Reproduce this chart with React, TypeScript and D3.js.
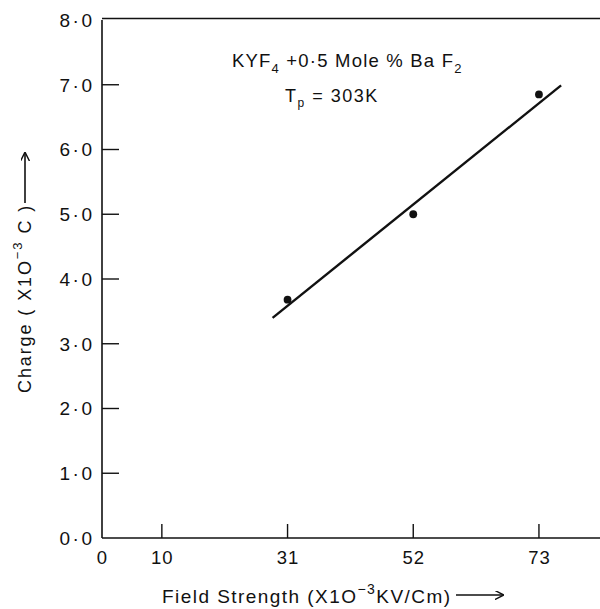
import React from 'react';
import * as d3 from 'd3';

const fieldStrength = [31, 52, 73];
const charge = [3.68, 5.0, 6.85];
const fitX = [28.5, 76.7];
const fitY = [3.4, 6.99];
const yTicks = [0, 1, 2, 3, 4, 5, 6, 7, 8];
const yTickLabels = ['0·0', '1·0', '2·0', '3·0', '4·0', '5·0', '6·0', '7·0', '8·0'];
const xTicks = [0, 10, 31, 52, 73];
const xTickLabels = ['0', '10', '31', '52', '73'];

const FONT = '"Liberation Sans", Arial, sans-serif';

export default function App() {
  const W = 600, H = 609;
  const x = d3.scaleLinear().domain([0, 83.2]).range([102, 600]);
  const y = d3.scaleLinear().domain([0, 8]).range([538, 20]);
  const fitPts: [number, number][] = fitX.map((v, i) => [v, fitY[i]]);
  const line = d3.line<[number, number]>().x(d => x(d[0])).y(d => y(d[1]));
  const x0 = x(0), y0 = y(0), yTop = y(8);

  return (
    <svg width={W} height={H} style={{ position: 'absolute', left: 0, top: 0, background: '#fff' }}
      fontFamily={FONT}>
      <defs>
        <marker id="ah" viewBox="0 0 10 10" refX="9" refY="5" markerWidth="9" markerHeight="9"
          markerUnits="userSpaceOnUse" orient="auto">
          <path d="M0,0 L10,5 L0,10" fill="none" stroke="#111" strokeWidth="1.6" />
        </marker>
      </defs>
      {/* frame */}
      <line x1={x0} y1={y0} x2={x0} y2={yTop} stroke="#111" strokeWidth={1.6} />
      <line x1={x0} y1={y0} x2={W} y2={y0} stroke="#111" strokeWidth={1.6} />
      <line x1={x0} y1={yTop - 1.5} x2={W} y2={yTop - 1.5} stroke="#111" strokeWidth={1.4} />
      {/* y ticks */}
      {yTicks.map((t, i) => (
        <g key={'y' + t}>
          {t > 0 && t < 8 && <line x1={x0} x2={x0 + 17} y1={y(t)} y2={y(t)} stroke="#111" strokeWidth={1.4} />}
          <text x={94.5} y={y(t)} dy="0.36em" textAnchor="end" fontSize={19} letterSpacing={2.5} fill="#111">{yTickLabels[i]}</text>
        </g>
      ))}
      {/* x ticks */}
      {xTicks.map((t, i) => (
        <g key={'x' + t}>
          {t > 0 && <line x1={x(t)} x2={x(t)} y1={y0} y2={y0 - 14} stroke="#111" strokeWidth={1.4} />}
          <text x={x(t) + 0.5} y={564} textAnchor="middle" fontSize={18.5} letterSpacing={1} fill="#111">{xTickLabels[i]}</text>
        </g>
      ))}
      {/* fit line */}
      <path d={line(fitPts) || ''} fill="none" stroke="#111" strokeWidth={2.4} />
      {/* points */}
      {fieldStrength.map((v, i) => (
        <circle key={'p' + i} cx={x(v)} cy={y(charge[i])} r={3.9} fill="#111" />
      ))}
      {/* annotation */}
      <text x={232} y={67} fontSize={18.5} fill="#111" letterSpacing={1.2}>
        <tspan>KYF</tspan>
        <tspan fontSize={13} dy={6}>4</tspan>
        <tspan dy={-6}> +0·5 Mole %  Ba F</tspan>
        <tspan fontSize={13} dy={6}>2</tspan>
      </text>
      <text x={285} y={102} fontSize={18} fill="#111" letterSpacing={1.5}>
        <tspan>T</tspan>
        <tspan fontSize={12} dy={5}>p</tspan>
        <tspan dy={-5}> = 303K</tspan>
      </text>
      {/* x axis title */}
      <text x={162} y={603} fontSize={19} fill="#111" letterSpacing={1.45}>
        <tspan>Field Strength (X1O</tspan>
        <tspan fontSize={14} dy={-9}>−3</tspan>
        <tspan dy={9}>KV/Cm)</tspan>
      </text>
      <line x1={456} x2={503} y1={595} y2={595} stroke="#111" strokeWidth={1.6} markerEnd="url(#ah)" />
      {/* y axis title */}
      <g transform={`translate(31,393) rotate(-90)`}>
        <text x={0} y={0} fontSize={18} fill="#111" letterSpacing={1.9}>
          <tspan>Charge  ( X1O</tspan>
          <tspan fontSize={13} dy={-9}>−3</tspan>
          <tspan dy={9}> C )</tspan>
        </text>
      </g>
      <line x1={25} x2={25} y1={203} y2={153} stroke="#111" strokeWidth={1.6} markerEnd="url(#ah)" />
    </svg>
  );
}
